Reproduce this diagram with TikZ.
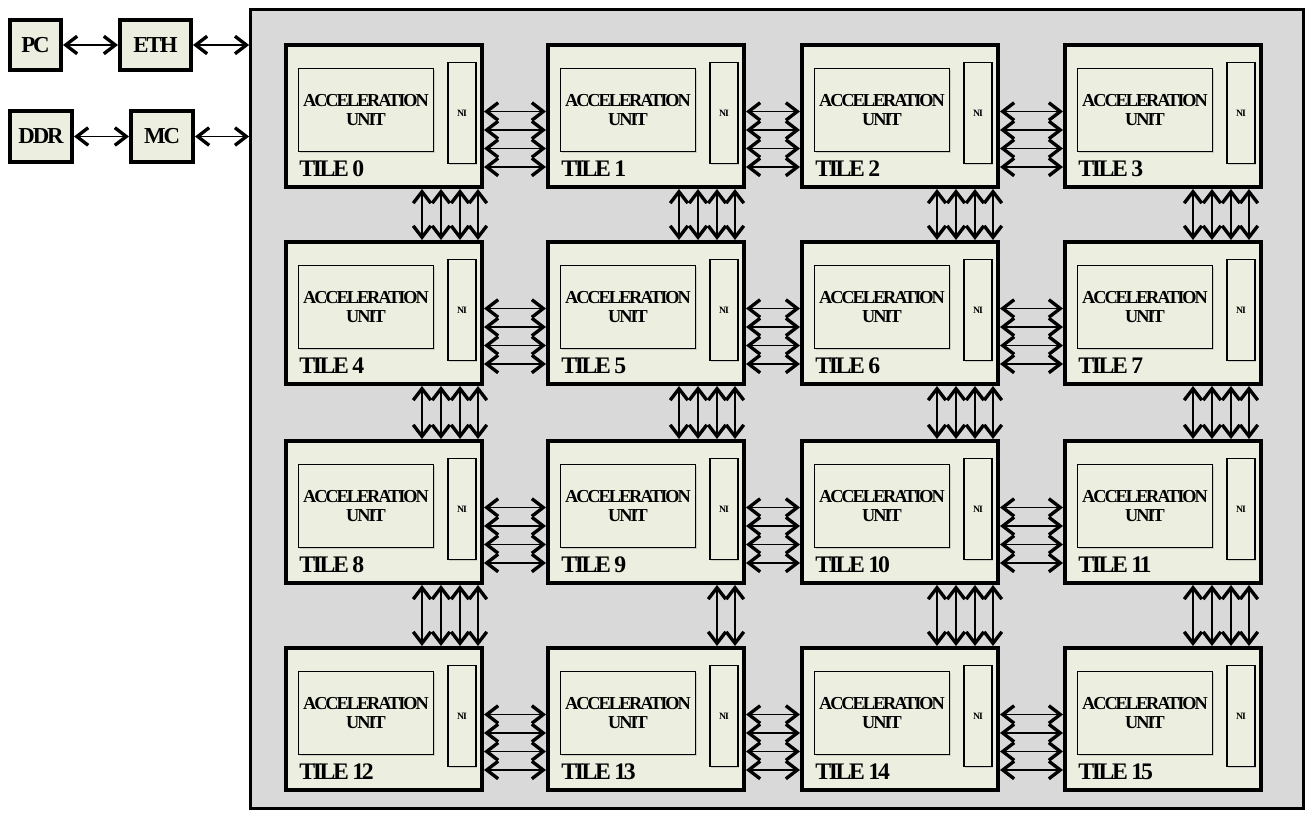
\documentclass[tikz,border=0pt]{standalone}
\usepackage{fontspec}
\setmainfont{Liberation Serif}
\usetikzlibrary{arrows.meta, calc, shadows}

\definecolor{tilefill}{HTML}{ECEEE0}
\definecolor{chipgray}{HTML}{D9D9D9}

\newcommand{\accelfont}{\bfseries\fontsize{10.4}{10.8}\selectfont\addfontfeature{LetterSpace=-11}}
\newcommand{\labelfont}{\bfseries\fontsize{13.5}{13.5}\selectfont\addfontfeature{LetterSpace=-10}}
\newcommand{\iofont}{\bfseries\fontsize{13}{13}\selectfont\addfontfeature{LetterSpace=-9}}
\newcommand{\nifont}{\bfseries\fontsize{5.5}{5.5}\selectfont\addfontfeature{LetterSpace=-10}}

\tikzset{
  chip/.style={draw, line width=1.7pt, fill=chipgray, minimum width=21.06cm, minimum height=15.98cm, inner sep=0},
  tile/.style={draw, line width=2.3pt, fill=tilefill, minimum width=3.92cm, minimum height=2.84cm, inner sep=0,
    drop shadow={shadow xshift=1.3pt, shadow yshift=-1.3pt, opacity=0.35}},
  accel/.style={draw, line width=1pt, fill=tilefill, minimum width=2.7cm, minimum height=1.66cm, inner sep=0,
    align=center, font=\accelfont, drop shadow={shadow xshift=0.8pt, shadow yshift=-0.8pt, opacity=0.3}},
  ni/.style={draw, line width=1pt, fill=tilefill, minimum width=0.56cm, minimum height=2.02cm, inner sep=0,
    font=\nifont, drop shadow={shadow xshift=0.8pt, shadow yshift=-0.8pt, opacity=0.3}},
  tilelabel/.style={anchor=west, inner sep=0, font=\labelfont},
  iobox/.style={draw, line width=2.3pt, fill=tilefill, inner sep=0, font=\iofont,
    drop shadow={shadow xshift=1.3pt, shadow yshift=-1.3pt, opacity=0.35}},
  link/.style={<->, >={Straight Barb[length=6.5pt,width=10pt,line width=1.9pt]}, line width=0.9pt}
}

\begin{document}
\begin{tikzpicture}[x=0.02cm, y=-0.02cm]
\useasboundingbox (0,0) rectangle (1309,814);

% the chip
\node[chip] (chip) at (777,409) {};

% off-chip blocks
\node[iobox, minimum width=1.02cm, minimum height=1.0cm] (pc) at (35.5,45) {PC};
\node[iobox, minimum width=1.42cm, minimum height=1.0cm] (eth) at (155.5,45) {ETH};
\node[iobox, minimum width=1.24cm, minimum height=1.02cm] (ddr) at (41,136.5) {DDR};
\node[iobox, minimum width=1.24cm, minimum height=1.02cm] (mc) at (162,136.5) {MC};

\draw[link] (pc) -- (eth);
\draw[link] (ddr) -- (mc);
\draw[link] (eth.east) -- (eth.east -| chip.west);
\draw[link] (mc.east) -- (mc.east -| chip.west);

% tiles
\foreach \i in {0,...,15}{
  \pgfmathtruncatemacro{\c}{mod(\i,4)}
  \pgfmathtruncatemacro{\r}{int(\i/4)}
  \pgfmathsetmacro{\tx}{{284,546,800,1063}[\c]}
  \pgfmathsetmacro{\ty}{{43,240,439,646}[\r]}
  \node[tile] (t\i) at (\tx+100,\ty+73) {};
  \node[accel] (a\i) at ($(t\i.north west)+(82,67)$) {ACCELERATION\\UNIT};
  \node[ni] (n\i) at ($(t\i.north west)+(178,70)$) {NI};
  \node[tilelabel] (l\i) at ($(t\i.north west)+(15,126)$) {TILE \i};
}

% links along the rows
\foreach \i in {0,1,2,4,5,6,8,9,10,12,13,14}{
  \pgfmathtruncatemacro{\j}{\i+1}
  \foreach \o in {68.5,87,105.5,124}
    \draw[link] ($(t\i.north east)+(0,\o)$) -- ($(t\j.north west)+(0,\o)$);
}

% links down the columns
\foreach \i in {0,...,11}{
  \pgfmathtruncatemacro{\j}{\i+4}
  \pgfmathtruncatemacro{\c}{mod(\i,4)}
  \pgfmathsetmacro{\s}{{4,-1,3,-4}[\c]}
  \ifnum\i=9 \def\olist{-28,-10}\else\def\olist{-66,-47,-28,-10}\fi
  \foreach \o in \olist
    \draw[link] ($(t\i.south east)+(\o+\s,0)$) -- ($(t\j.north east)+(\o+\s,0)$);
}

\end{tikzpicture}
\end{document}
